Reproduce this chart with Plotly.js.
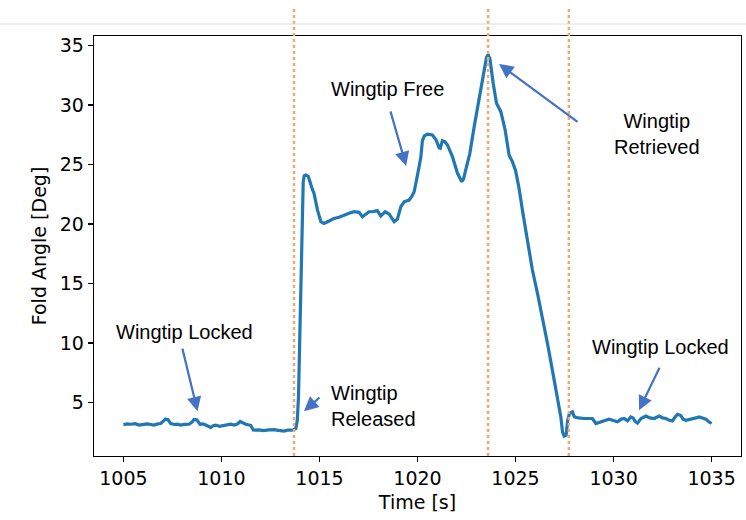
<!DOCTYPE html>
<html>
<head>
<meta charset="utf-8">
<script src="https://cdn.plot.ly/plotly-3.0.1.min.js"></script>
<style>
  html, body { margin: 0; padding: 0; background: #ffffff; }
  #chart { width: 746px; height: 520px; }
</style>
</head>
<body>
<div id="chart"></div>
<script>
// Wingtip fold angle time history (seconds, degrees)
const timeS = [
  1005.0, 1005.2, 1005.37, 1005.6, 1005.8, 1006.0, 1006.22, 1006.4, 1006.56, 1006.75,
  1006.9, 1007.05, 1007.15, 1007.28, 1007.41, 1007.6, 1007.75, 1007.92, 1008.1, 1008.35,
  1008.5, 1008.6, 1008.74, 1008.91, 1009.05, 1009.2, 1009.35, 1009.45, 1009.58, 1009.71,
  1009.9, 1010.13, 1010.3, 1010.47, 1010.65, 1010.81, 1010.95, 1011.05, 1011.24, 1011.49,
  1011.58, 1011.63, 1011.9, 1012.17, 1012.4, 1012.68, 1012.9, 1013.19, 1013.4, 1013.62,
  1013.79, 1013.87, 1013.93, 1013.98, 1014.05, 1014.13, 1014.17, 1014.22, 1014.3, 1014.43,
  1014.5, 1014.56, 1014.64, 1014.72, 1014.81, 1014.9, 1015.07, 1015.23, 1015.49, 1015.74,
  1016.0, 1016.25, 1016.51, 1016.76, 1017.02, 1017.19, 1017.36, 1017.53, 1017.75, 1017.95,
  1018.13, 1018.35, 1018.55, 1018.7, 1018.81, 1018.97, 1019.15, 1019.32, 1019.57, 1019.7,
  1019.83, 1020.0, 1020.17, 1020.25, 1020.35, 1020.5, 1020.76, 1020.95, 1021.1, 1021.16,
  1021.27, 1021.4, 1021.53, 1021.78, 1022.04, 1022.26, 1022.35, 1022.46, 1022.67, 1022.89,
  1023.14, 1023.4, 1023.52, 1023.6, 1023.69, 1023.86, 1024.03, 1024.25, 1024.47, 1024.67,
  1024.84, 1025.0, 1025.18, 1025.35, 1025.53, 1025.69, 1025.86, 1026.12, 1026.37, 1026.63,
  1026.88, 1027.14, 1027.31, 1027.4, 1027.48, 1027.58, 1027.66, 1027.75, 1027.9, 1028.0,
  1028.2, 1028.5, 1028.7, 1028.92, 1029.1, 1029.25, 1029.43, 1029.6, 1029.77, 1030.0,
  1030.2, 1030.4, 1030.54, 1030.71, 1030.88, 1031.0, 1031.1, 1031.22, 1031.4, 1031.65,
  1031.85, 1032.07, 1032.2, 1032.33, 1032.5, 1032.67, 1032.85, 1033.0, 1033.15, 1033.26,
  1033.43, 1033.55, 1033.69, 1033.85, 1034.03, 1034.2, 1034.37, 1034.55, 1034.71, 1034.84,
  1035.0
];
const foldAngleDeg = [
  3.14, 3.2, 3.17, 3.22, 3.1, 3.18, 3.2, 3.15, 3.1, 3.2,
  3.23, 3.45, 3.6, 3.55, 3.23, 3.15, 3.18, 3.1, 3.16, 3.17,
  3.35, 3.57, 3.55, 3.17, 3.2, 3.1, 3.0, 2.9, 3.05, 3.1,
  3.0, 3.06, 3.12, 3.17, 3.1, 3.18, 3.4, 3.3, 3.17, 3.08,
  2.8, 2.67, 2.7, 2.64, 2.7, 2.72, 2.65, 2.6, 2.68, 2.67,
  2.8, 3.5, 5.5, 9.0, 14.2, 19.8, 23.5, 24.05, 24.12, 24.0,
  23.6, 23.13, 22.9, 22.58, 21.8, 21.17, 20.19, 20.05, 20.25, 20.47,
  20.56, 20.75, 20.9, 21.03, 20.98, 20.61, 20.81, 21.03, 21.05, 21.12,
  20.67, 21.03, 20.84, 20.5, 20.19, 20.39, 21.45, 21.87, 22.01, 22.3,
  22.71, 24.12, 25.6, 27.0, 27.4, 27.54, 27.48, 27.06, 26.4, 26.36,
  27.0, 26.9, 26.64, 25.66, 24.26, 23.55, 23.8, 24.54, 25.94, 28.18,
  30.42, 32.95, 34.0, 34.21, 33.93, 31.83, 30.15, 29.44, 27.9, 25.8,
  25.24, 24.5, 23.0, 21.17, 19.49, 17.81, 16.13, 14.17, 12.2, 9.96,
  7.72, 5.47, 3.79, 2.5, 2.17, 2.25, 3.5, 4.07, 4.21, 3.79,
  3.7, 3.65, 3.68, 3.65, 3.23, 3.3, 3.37, 3.5, 3.6, 3.45,
  3.37, 3.6, 3.65, 3.45, 3.79, 3.7, 3.4, 3.26, 3.65, 3.85,
  3.7, 3.65, 3.75, 3.85, 3.7, 3.65, 3.5, 3.45, 3.8, 4.0,
  3.9, 3.6, 3.5, 3.55, 3.65, 3.7, 3.79, 3.65, 3.6, 3.4,
  3.23
];

// Event markers: release, peak (retrieve command), re-lock
const eventTimes = [1013.7, 1023.6, 1027.72];

// Callouts: text, text anchor, arrow tail and arrow tip (data units)
const calloutText = ["Wingtip Locked", "Wingtip<br>Released", "Wingtip Free", "Wingtip<br>Retrieved", "Wingtip Locked"];
const calloutTextX = [1008.14, 1015.49, 1018.45, 1032.22, 1032.38];
const calloutTextY = [10.91, 4.73, 31.35, 27.57, 9.65];
const arrowTailX = [1007.99, 1015.08, 1018.6, 1028.24, 1032.38];
const arrowTailY = [9.65, 5.53, 29.59, 28.49, 8.05];
const arrowTipX = [1008.78, 1014.21, 1019.42, 1024.16, 1031.3];
const arrowTipY = [4.27, 4.27, 24.88, 33.45, 4.35];

const xTicks = [1005, 1010, 1015, 1020, 1025, 1030, 1035];
const yTicks = [5, 10, 15, 20, 25, 30, 35];

const labelFont = { family: "Liberation Sans, Arial, sans-serif", size: 20, color: "#000000" };
const titleFont = { family: "DejaVu Sans, sans-serif", size: 19, color: "#000000" };

const annotations = [];
calloutText.forEach((txt, i) => {
  annotations.push({
    x: calloutTextX[i], y: calloutTextY[i], xref: "x", yref: "y",
    text: txt, showarrow: false, font: labelFont,
    xanchor: i === 1 ? "left" : "center", yanchor: "middle",
    align: i === 1 ? "left" : "center"
  });
  annotations.push({
    x: arrowTipX[i], y: arrowTipY[i], xref: "x", yref: "y",
    ax: arrowTailX[i], ay: arrowTailY[i], axref: "x", ayref: "y",
    text: "", showarrow: true, arrowhead: 2, arrowsize: 1.3, arrowwidth: 2.2,
    arrowcolor: "#4472c4", standoff: 0, startstandoff: 0
  });
});

const shapes = eventTimes.map(t => ({
  type: "line", xref: "x", yref: "paper",
  x0: t, x1: t, y0: 0, y1: 1.064,
  line: { color: "#f7a672", width: 2.5, dash: "dot" },
  layer: "above"
}));
// thin rule across the top of the figure
shapes.push({
  type: "line", xref: "paper", yref: "paper",
  x0: -0.1453, x1: 1.0077, y0: 1.0286, y1: 1.0286,
  line: { color: "#dedede", width: 1.2 }
});

const axisCommon = {
  showline: true, linecolor: "#000000", linewidth: 1.3, mirror: true,
  ticks: "outside", ticklen: 5, tickwidth: 1.2, tickcolor: "#000000",
  showgrid: false, zeroline: false,
  tickfont: { family: "DejaVu Sans, sans-serif", size: 19, color: "#000000" }
};

const layout = {
  width: 746, height: 520,
  margin: { l: 94, r: 5, t: 36, b: 64 },
  paper_bgcolor: "#ffffff", plot_bgcolor: "#ffffff",
  showlegend: false,
  xaxis: Object.assign({}, axisCommon, {
    range: [1003.5, 1036.5], tickvals: xTicks,
    title: { text: "Time [s]", font: titleFont, standoff: 7 }
  }),
  yaxis: Object.assign({}, axisCommon, {
    range: [0.5, 35.8], tickvals: yTicks,
    title: { text: "Fold Angle [Deg]", font: titleFont, standoff: 8 }
  }),
  shapes: shapes,
  annotations: annotations
};

const trace = {
  x: timeS, y: foldAngleDeg, type: "scatter", mode: "lines",
  line: { color: "#1f77b4", width: 3.2 }
};

Plotly.newPlot("chart", [trace], layout, { displayModeBar: false, staticPlot: true });
</script>
</body>
</html>
